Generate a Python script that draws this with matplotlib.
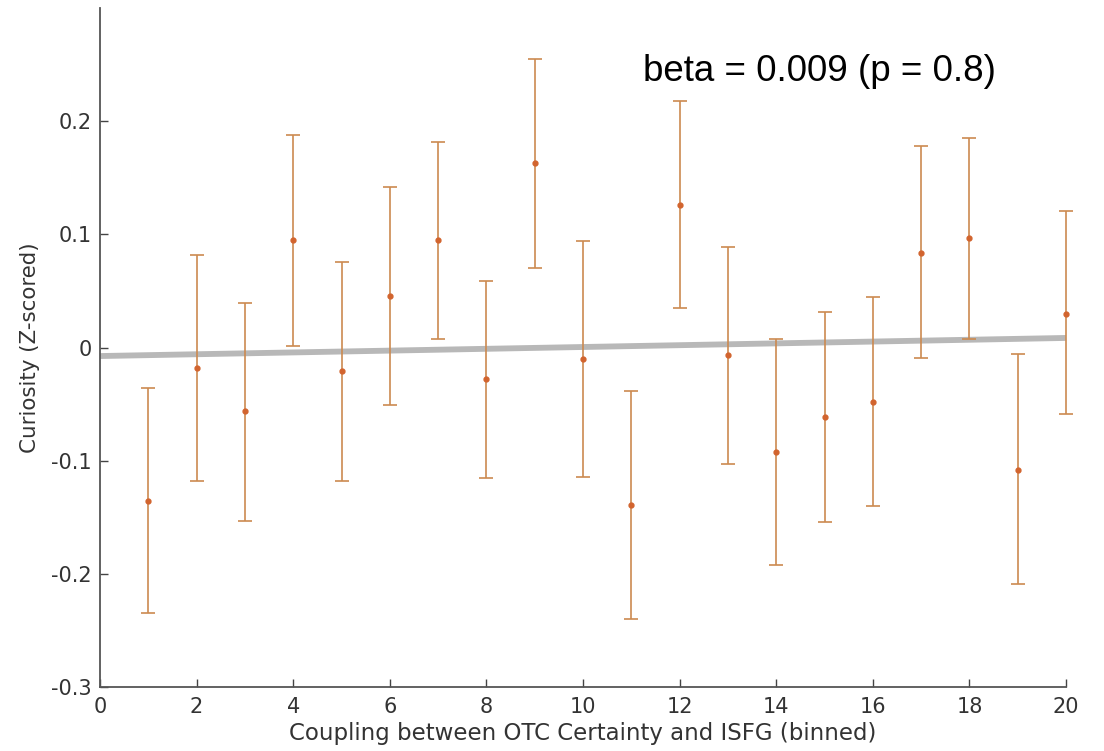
import numpy as np
import matplotlib
matplotlib.use('Agg')
import matplotlib.pyplot as plt

# binned curiosity means and error bar bounds
bins = np.arange(1, 21)
means = [-0.136, -0.018, -0.056, 0.095, -0.021, 0.046, 0.095, -0.028, 0.163, -0.010,
         -0.139, 0.126, -0.007, -0.092, -0.061, -0.048, 0.084, 0.097, -0.108, 0.030]
upper = [-0.036, 0.082, 0.039, 0.188, 0.076, 0.142, 0.182, 0.059, 0.255, 0.094,
         -0.038, 0.218, 0.089, 0.008, 0.031, 0.045, 0.178, 0.185, -0.006, 0.121]
lower = [-0.235, -0.118, -0.153, 0.001, -0.118, -0.051, 0.008, -0.115, 0.070, -0.114,
         -0.240, 0.035, -0.103, -0.192, -0.154, -0.140, -0.009, 0.008, -0.209, -0.059]

# regression line
fit_x = [0, 20]
fit_y = [-0.0075, 0.0085]

xticks = list(range(0, 21, 2))
yticks = [-0.3, -0.2, -0.1, 0, 0.1, 0.2]
yticklabels = ['-0.3', '-0.2', '-0.1', '0', '0.1', '0.2']

means = np.array(means)
err = [means - np.array(lower), np.array(upper) - means]

fig = plt.figure(figsize=(11.04, 7.51), dpi=100)
ax = fig.add_axes([0.0906, 0.0852, 0.875, 0.904])

ax.plot(fit_x, fit_y, color='#b8b8b8', lw=4.2, solid_capstyle='butt', zorder=1, clip_on=False)
eb = ax.errorbar(bins, means, yerr=err, fmt='o', color='#cc8a50', ecolor='#cc8a50',
                 elinewidth=1.2, capsize=5, capthick=1.2, markersize=3.5,
                 markerfacecolor='#d2642e', markeredgecolor='#d2642e', zorder=3)
for art in eb.lines[1] + eb.lines[2]:
    art.set_clip_on(False)
eb.lines[0].set_clip_on(False)

ax.set_xlim(0, 20)
ax.set_ylim(-0.3, 0.3)
ax.set_xticks(xticks)
ax.set_yticks(yticks)
ax.set_yticklabels(yticklabels)

for s in ['top', 'right']:
    ax.spines[s].set_visible(False)
for s in ['left', 'bottom']:
    ax.spines[s].set_color('#555555')
    ax.spines[s].set_linewidth(1.3)
ax.tick_params(direction='in', length=6, width=1, color='#444444',
               labelsize=15, labelcolor='#333333', pad=6)
ax.tick_params(axis='x', pad=7)

ax.set_xlabel('Coupling between OTC Certainty and ISFG (binned)', fontsize=16.5, color='#333333', labelpad=4)
ax.set_ylabel('Curiosity (Z-scored)', fontsize=15.4, color='#333333', labelpad=8)

ax.text(11.25, 0.236, 'beta = 0.009 (p = 0.8)', fontsize=26.5, family='Liberation Sans',
        color='black', va='baseline', ha='left')

plt.savefig('out.png', dpi=100, facecolor='white')
plt.close()
